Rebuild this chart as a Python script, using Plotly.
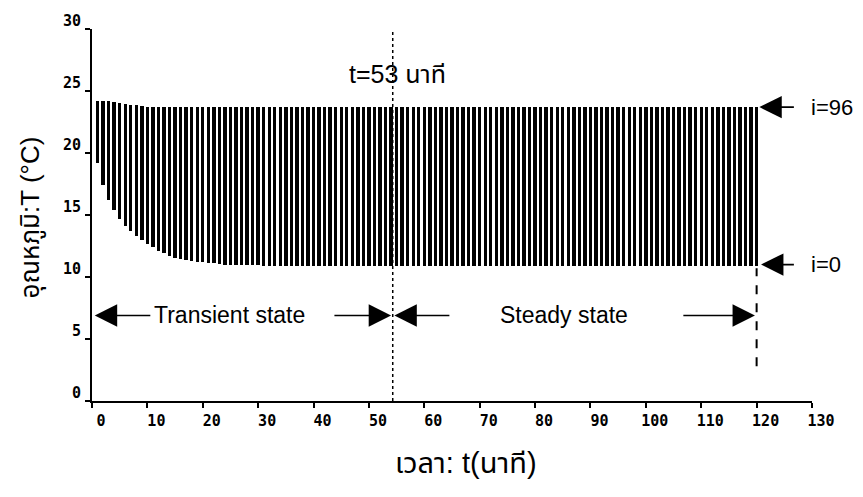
import plotly.graph_objects as go

# time (minutes)
t = list(range(1, 121))

# lower end of each bar (i=0 node temperature, degC)
bottom_early = [19.2, 17.4, 16.2, 15.4, 14.7, 14.1, 13.7, 13.3, 13.0, 12.7,
                12.4, 12.1, 11.9, 11.7, 11.55, 11.45, 11.35, 11.3, 11.25, 11.2,
                11.15, 11.1, 11.05, 11.0, 11.0, 10.95, 10.95, 10.95, 10.95, 10.95]
bottom_late = [10.9] * (120 - len(bottom_early))
t_bottom = bottom_early + bottom_late

# upper end of each bar (i=96 node temperature, degC)
top_early = [24.2, 24.2, 24.2, 24.1, 24.0, 23.95, 23.9, 23.85, 23.8, 23.75, 23.75, 23.75]
top_late = [23.7] * (120 - len(top_early))
t_top = top_early + top_late

t_steady = 54.3     # where the dotted marker line is drawn (labelled t=53)
t_end = 120

x_ticks = list(range(0, 131, 10))
y_ticks = list(range(0, 31, 5))

fig = go.Figure()
fig.add_trace(go.Bar(
    x=t, y=[a - b for a, b in zip(t_top, t_bottom)], base=t_bottom,
    width=0.6, marker=dict(color="black", line=dict(width=0)),
    showlegend=False, hoverinfo="skip"))

tick_font = dict(family="DejaVu Sans Mono", size=15, color="black", weight="bold")
txt_font = dict(family="Liberation Sans, Noto Sans Thai, Noto Sans, sans-serif", size=23, color="black")

fig.update_layout(
    width=863, height=497,
    margin=dict(l=92, r=51, t=20, b=96),
    paper_bgcolor="white", plot_bgcolor="white",
    bargap=0,
    xaxis=dict(range=[0, 130], tickvals=x_ticks, ticks="outside", ticklen=5,
               tickwidth=2, tickcolor="black", showline=True, linecolor="black",
               linewidth=2, showgrid=False, zeroline=False, tickfont=tick_font,
               ticklabelshift=9, ticklabelstandoff=0),
    yaxis=dict(range=[0, 30], tickvals=y_ticks, ticks="outside", ticklen=5,
               tickwidth=2, tickcolor="black", showline=True, linecolor="black",
               linewidth=2, showgrid=False, zeroline=False, tickfont=tick_font,
               ticklabelshift=-8, ticklabelstandoff=1),
)

# vertical dotted line at transition, dashed line at end
fig.add_shape(type="line", x0=t_steady, x1=t_steady, y0=0, y1=30.2,
              line=dict(color="black", width=1.5, dash="dot"))
fig.add_shape(type="line", x0=t_end, x1=t_end, y0=2.8, y1=10.7,
              line=dict(color="black", width=2, dash="dash"))

def arrow(x_tip, y_tip, x_tail, y_tail):
    fig.add_annotation(x=x_tip, y=y_tip, ax=x_tail, ay=y_tail, xref="x", yref="y",
                       axref="x", ayref="y", text="", showarrow=True,
                       arrowhead=2, arrowsize=2.8, arrowwidth=1.6, arrowcolor="black")

y_arr = 6.9
arrow(0.5, y_arr, 10.8, y_arr)
arrow(54.0, y_arr, 43.5, y_arr)
arrow(54.6, y_arr, 64.8, y_arr)
arrow(119.7, y_arr, 106.5, y_arr)
arrow(120.5, 23.7, 127.0, 23.7)
arrow(120.8, 11.0, 127.0, 11.0)

fig.add_annotation(x=10.8, y=y_arr, text="Transient state", xref="x", yref="y",
                   xanchor="left", showarrow=False, font=txt_font)
fig.add_annotation(x=85.3, y=y_arr, text="Steady state", xref="x", yref="y",
                   xanchor="center", showarrow=False, font=txt_font)
fig.add_annotation(x=129.5, y=23.7, text="i=96", xref="x", yref="y",
                   xanchor="left", showarrow=False, font=dict(txt_font, size=22))
fig.add_annotation(x=129.5, y=11.0, text="i=0", xref="x", yref="y",
                   xanchor="left", showarrow=False, font=dict(txt_font, size=22))
fig.add_annotation(x=55.2, y=26.4, text="t=53 นาที", xref="x", yref="y",
                   xanchor="center", showarrow=False, font=dict(txt_font, size=25))

# axis titles
fig.add_annotation(xref="paper", yref="paper", x=(30 - 92) / 720, y=1 - (213 - 20) / 381,
                   text="อุณหภูมิ:T (°C)", textangle=-90, showarrow=False,
                   xanchor="center", yanchor="middle", font=dict(txt_font, size=26))
fig.add_annotation(xref="paper", yref="paper", x=(466 - 92) / 720, y=1 - (465 - 20) / 381,
                   text="เวลา: t(นาที)", showarrow=False, xanchor="center",
                   yanchor="middle", font=dict(txt_font, size=29))

fig.write_html("out.html")
